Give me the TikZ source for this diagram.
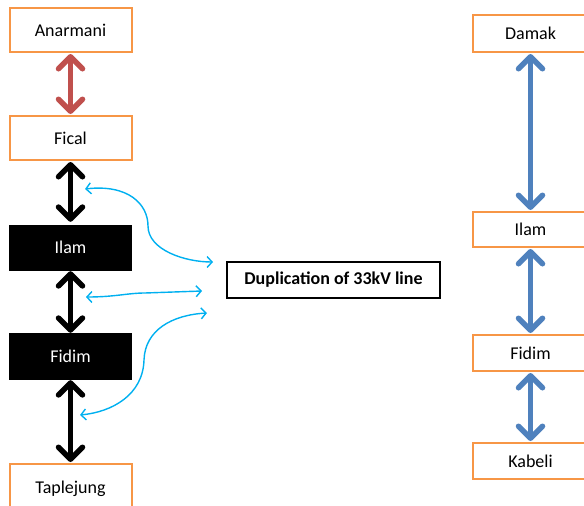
\documentclass[tikz,border=0pt]{standalone}
\usepackage{fontspec}
\setmainfont{Carlito}
\usetikzlibrary{arrows.meta}
\definecolor{boxorange}{RGB}{247,150,70}
\definecolor{redarr}{RGB}{192,80,77}
\definecolor{bluearr}{RGB}{79,129,189}
\definecolor{cyanline}{RGB}{0,176,240}
\tikzset{
  obox/.style={draw=boxorange, line width=2pt, fill=white, minimum width=122pt, inner sep=0pt, font=\fontsize{18}{20}\selectfont},
  rbox/.style={obox, minimum width=115pt},
  bbox/.style={draw=black, fill=black, text=white, minimum width=122pt, inner sep=0pt, font=\fontsize{18}{20}\selectfont},
  dupbox/.style={draw=black, line width=1.5pt, minimum width=213pt, minimum height=36pt, inner sep=0pt, font=\bfseries\fontsize{18}{20}\selectfont},
  dblarr/.style={line width=5.5pt, {Straight Barb[length=12pt,width=24pt,line cap=round,line join=round]}-{Straight Barb[length=12pt,width=24pt,line cap=round,line join=round]}, line cap=round},
  cyanarr/.style={draw=cyanline, line width=1.4pt, {Straight Barb[length=5pt,width=11pt]}-{Straight Barb[length=5pt,width=11pt]}}
}
\begin{document}
\begin{tikzpicture}[x=1pt,y=-1pt]
\useasboundingbox (0,0) rectangle (584,506);
\clip (0,0) rectangle (584,506);
% left column
\node[obox, minimum height=44pt] (anar) at (70.5,30) {Anarmani};
\node[obox, minimum height=44pt] (fical) at (70.5,138) {Fical};
\node[bbox, minimum height=45pt] (ilamL) at (70.5,247.5) {Ilam};
\node[bbox, minimum height=46pt] (fidimL) at (70.5,356) {Fidim};
\node[obox, minimum height=50pt] (tap) at (70.5,489) {Taplejung};
% right column
\node[rbox, minimum height=37pt] (damak) at (530.5,33.5) {Damak};
\node[rbox, minimum height=35pt] (ilamR) at (530.5,229.5) {Ilam};
\node[rbox, minimum height=36pt] (fidimR) at (530.5,353) {Fidim};
\node[rbox, minimum height=36pt] (kabeli) at (530.5,461) {Kabeli};
% label
\node[dupbox] (dup) at (333.5,280) {Duplication of 33kV line};
% arrows left
\draw[dblarr, draw=redarr] ([yshift=-1pt]anar.south) -- ([yshift=1pt]fical.north);
\draw[dblarr, draw=black] ([yshift=-1pt]fical.south) -- ([yshift=3pt]ilamL.north);
\draw[dblarr, draw=black] ([yshift=-1pt]ilamL.south) -- (fidimL.north);
\draw[dblarr, draw=black] ([yshift=-1pt]fidimL.south) -- ([yshift=1pt]tap.north);
% arrows right
\draw[dblarr, draw=bluearr] ([yshift=-1pt]damak.south) -- ([yshift=1pt]ilamR.north);
\draw[dblarr, draw=bluearr] ([yshift=-1pt]ilamR.south) -- ([yshift=1pt]fidimR.north);
\draw[dblarr, draw=bluearr] ([yshift=-1pt]fidimR.south) -- ([yshift=1pt]kabeli.north);
% cyan curves
\coordinate (c1a) at (85,189);
\coordinate (c1b) at (213,262);
\coordinate (c2a) at (86,297);
\coordinate (c2b) at (202,291);
\coordinate (c3a) at (207,313);
\coordinate (c3b) at (80,415);
\draw[cyanarr] (c1a) .. controls (128,184) and (148,204) .. (148,226) .. controls (148,250) and (185,262) .. (c1b);
\draw[cyanarr] (c2a) .. controls (115,297) and (128,293) .. (145,293) -- (c2b);
\draw[cyanarr] (c3b) .. controls (112,412) and (143,395) .. (144,360) .. controls (145,330) and (172,315) .. (c3a);
\end{tikzpicture}
\end{document}
